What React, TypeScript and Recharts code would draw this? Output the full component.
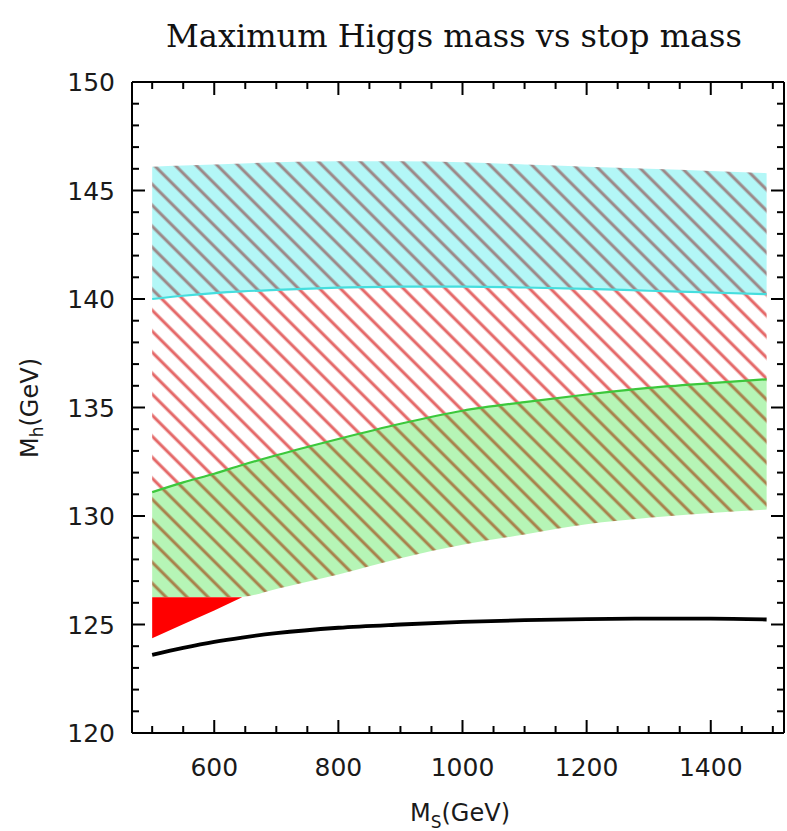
import React from 'react';
import { ComposedChart, Area, Line, XAxis, YAxis } from 'recharts';

// stop mass M_S (GeV) where the curves were read
const stopMass = [500, 550, 600, 645, 700, 800, 900, 1000, 1100, 1200, 1300, 1400, 1490];
// cyan band
const cyanUpper = [146.1, 146.15, 146.2, 146.25, 146.3, 146.35, 146.35, 146.3, 146.2, 146.1, 146.0, 145.9, 145.8];
const cyanLower = [140.0, 140.15, 140.27, 140.35, 140.42, 140.52, 140.57, 140.57, 140.53, 140.47, 140.38, 140.3, 140.22];
// green band
const greenUpper = [131.1, 131.55, 131.95, 132.35, 132.8, 133.55, 134.25, 134.85, 135.25, 135.6, 135.9, 136.12, 136.3];
const greenLower = [126.26, 126.26, 126.26, 126.28, 126.64, 127.3, 128.05, 128.67, 129.15, 129.62, 129.92, 130.14, 130.3];
// red wedge (only at low M_S)
const redLower = [124.37, 125.01, 125.65, 126.26, null, null, null, null, null, null, null, null, null];
const redUpper = [126.26, 126.26, 126.26, 126.26, null, null, null, null, null, null, null, null, null];
// black curve
const blackCurve = [123.6, 123.92, 124.2, 124.4, 124.6, 124.85, 125.0, 125.12, 125.2, 125.25, 125.27, 125.27, 125.23];

const xTicks = [500, 550, 600, 650, 700, 750, 800, 850, 900, 950, 1000, 1050, 1100, 1150, 1200, 1250, 1300, 1350, 1400, 1450, 1500];
const xMajor = [600, 800, 1000, 1200, 1400];
const yTicks = [120, 121, 122, 123, 124, 125, 126, 127, 128, 129, 130, 131, 132, 133, 134, 135, 136, 137, 138, 139, 140, 141, 142, 143, 144, 145, 146, 147, 148, 149, 150];
const yMajor = [120, 125, 130, 135, 140, 145, 150];

const data = stopMass.map((m, i) => ({
  m,
  cyan: [cyanLower[i], cyanUpper[i]],
  red: [greenUpper[i], cyanLower[i]],
  green: [greenLower[i], greenUpper[i]],
  wedge: redLower[i] == null ? null : [redLower[i], redUpper[i]],
  cyanLine: cyanLower[i],
  greenLine: greenUpper[i],
  black: blackCurve[i],
}));

const SANS = 'DejaVu Sans, sans-serif';
const MAJOR = 13;
const MINOR = 7;

const BottomTick = (props: any) => {
  const { x, y, payload } = props;
  const major = xMajor.includes(payload.value);
  return (
    <g>
      <line x1={x} x2={x} y1={y} y2={y - (major ? MAJOR : MINOR)} stroke="#000" strokeWidth={2} />
      {major && (
        <text x={x} y={y + 43} textAnchor="middle" fontSize={25} fontFamily={SANS} fill="#1a1a1a">
          {payload.value}
        </text>
      )}
    </g>
  );
};

const TopTick = (props: any) => {
  const { x, y, payload } = props;
  const major = xMajor.includes(payload.value);
  return <line x1={x} x2={x} y1={y} y2={y + (major ? MAJOR : MINOR)} stroke="#000" strokeWidth={2} />;
};

const LeftTick = (props: any) => {
  const { x, y, payload } = props;
  const major = yMajor.includes(payload.value);
  return (
    <g>
      <line x1={x} x2={x + (major ? MAJOR : MINOR)} y1={y} y2={y} stroke="#000" strokeWidth={2} />
      {major && (
        <text x={x - 17} y={y + 9} textAnchor="end" fontSize={25} fontFamily={SANS} fill="#1a1a1a">
          {payload.value}
        </text>
      )}
    </g>
  );
};

const RightTick = (props: any) => {
  const { x, y, payload } = props;
  const major = yMajor.includes(payload.value);
  return <line x1={x} x2={x - (major ? MAJOR : MINOR)} y1={y} y2={y} stroke="#000" strokeWidth={2} />;
};

const hatch = (id: string, bg: string, stroke: string) => (
  <pattern id={id} patternUnits="userSpaceOnUse" width={14.85} height={14.85} patternTransform="rotate(-45)">
    <rect width={14.85} height={14.85} fill={bg} />
    <line x1={7} y1={-1} x2={7} y2={16} stroke={stroke} strokeWidth={3} />
  </pattern>
);

const App: React.FC = () => {
  return (
    <div style={{ position: 'absolute', left: 0, top: 0, width: 787, height: 831, background: '#fff' }}>
      <ComposedChart width={787} height={831} data={data} margin={{ top: 81, right: 2, bottom: 38, left: 72 }}>
        <defs>
          {hatch('hatchCyan', '#b3f7f7', '#9c8686')}
          {hatch('hatchRed', '#ffffff', '#e46666')}
          {hatch('hatchGreen', '#b6f5b6', '#a8804a')}
        </defs>
        <XAxis
          xAxisId="b"
          dataKey="m"
          type="number"
          domain={[467.5, 1518]}
          allowDataOverflow
          ticks={xTicks}
          interval={0}
          height={60}
          tickSize={0}
          tickMargin={0}
          tickLine={false}
          axisLine={{ stroke: '#000', strokeWidth: 2 }}
          tick={<BottomTick />}
          label={{
            content: () => (
              <text x={460} y={821} textAnchor="middle" fontSize={24} fontFamily={SANS} fill="#1a1a1a">
                M<tspan dy={7} fontSize={17}>S</tspan>
                <tspan dy={-7}>(GeV)</tspan>
              </text>
            ),
          }}
        />
        <XAxis
          xAxisId="t"
          orientation="top"
          dataKey="m"
          type="number"
          domain={[467.5, 1518]}
          allowDataOverflow
          ticks={xTicks}
          interval={0}
          height={1}
          tickSize={0}
          tickMargin={0}
          tickLine={false}
          axisLine={{ stroke: '#000', strokeWidth: 2 }}
          tick={<TopTick />}
          label={{
            content: () => (
              <text x={454} y={47} textAnchor="middle" fontSize={32} fontFamily="DejaVu Serif, serif" fill="#111">
                Maximum Higgs mass vs stop mass
              </text>
            ),
          }}
        />
        <YAxis
          yAxisId="l"
          domain={[120, 150]}
          allowDataOverflow
          ticks={yTicks}
          interval={0}
          width={60}
          tickSize={0}
          tickMargin={0}
          tickLine={false}
          axisLine={{ stroke: '#000', strokeWidth: 2 }}
          tick={<LeftTick />}
          label={{
            content: () => (
              <text
                x={30}
                y={408}
                transform="rotate(-90 30 408)"
                textAnchor="middle"
                dominantBaseline="central"
                fontSize={24}
                fontFamily={SANS}
                fill="#1a1a1a"
              >
                M<tspan dy={7} fontSize={17}>h</tspan>
                <tspan dy={-7}>(GeV)</tspan>
              </text>
            ),
          }}
        />
        <YAxis
          yAxisId="r"
          orientation="right"
          domain={[120, 150]}
          allowDataOverflow
          ticks={yTicks}
          interval={0}
          width={1}
          tickSize={0}
          tickMargin={0}
          tickLine={false}
          axisLine={{ stroke: '#000', strokeWidth: 2 }}
          tick={<RightTick />}
        />
        <Area xAxisId="b" yAxisId="l" type="monotone" dataKey="cyan" stroke="none" fill="url(#hatchCyan)" fillOpacity={1} isAnimationActive={false} />
        <Area xAxisId="b" yAxisId="l" type="monotone" dataKey="red" stroke="none" fill="url(#hatchRed)" fillOpacity={1} isAnimationActive={false} />
        <Area xAxisId="b" yAxisId="l" type="monotone" dataKey="green" stroke="none" fill="url(#hatchGreen)" fillOpacity={1} isAnimationActive={false} />
        <Area xAxisId="b" yAxisId="l" type="linear" dataKey="wedge" stroke="none" fill="#ff0000" fillOpacity={1} isAnimationActive={false} />
        <Line xAxisId="b" yAxisId="l" type="monotone" dataKey="cyanLine" stroke="#45dede" strokeWidth={2.2} dot={false} isAnimationActive={false} />
        <Line xAxisId="b" yAxisId="l" type="monotone" dataKey="greenLine" stroke="#3cc83c" strokeWidth={2.2} dot={false} isAnimationActive={false} />
        <Line xAxisId="b" yAxisId="l" type="monotone" dataKey="black" stroke="#000" strokeWidth={3.8} dot={false} isAnimationActive={false} />
      </ComposedChart>
    </div>
  );
};

export default App;
